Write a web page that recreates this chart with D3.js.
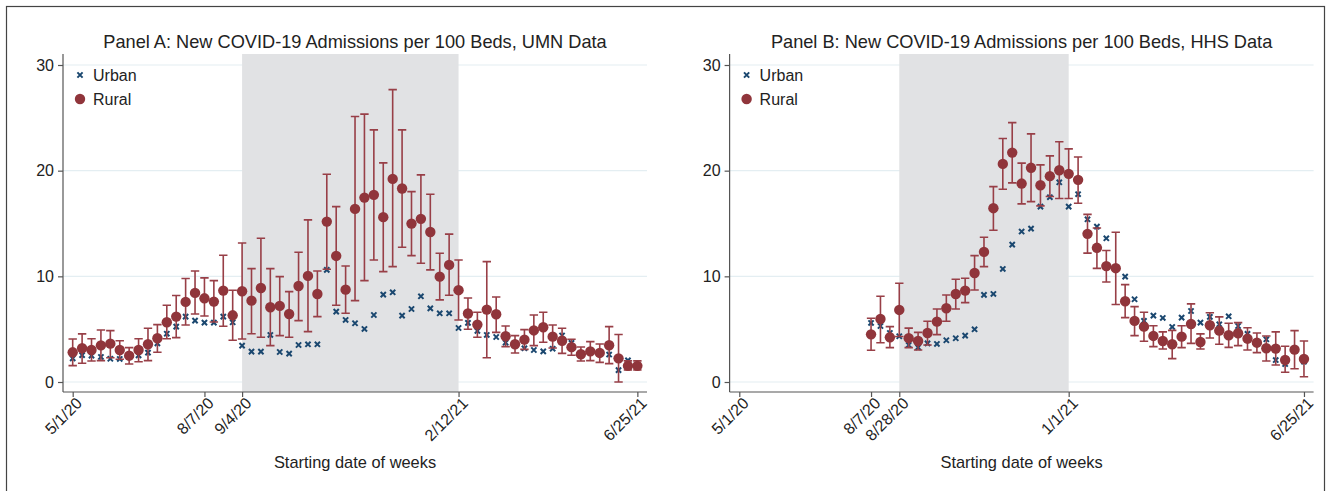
<!DOCTYPE html>
<html>
<head>
<meta charset="utf-8">
<script src="https://cdn.jsdelivr.net/npm/d3@7"></script>
<style>
  html, body { margin: 0; padding: 0; background: #fff; }
  svg { display: block; font-family: "Liberation Sans", Arial, sans-serif; }
</style>
</head>
<body>
<svg id="chart" width="1330" height="491"></svg>
<script>
// ---------------- DATA ----------------
const titleA = "Panel A: New COVID-19 Admissions per 100 Beds, UMN Data";
const titleB = "Panel B: New COVID-19 Admissions per 100 Beds, HHS Data";
const xTitle = "Starting date of weeks";
const seriesNames = ["Urban", "Rural"];

const startA = "5/1/20";   // first week, Panel A (weekly)
const startB = "8/7/20";   // first week, Panel B (weekly)
const axisStart = "5/1/20", axisEnd = "6/25/21";

const tickLabelsA = ["5/1/20", "8/7/20", "9/4/20", "2/12/21", "6/25/21"];
const tickLabelsB = ["5/1/20", "8/7/20", "8/28/20", "1/1/21", "6/25/21"];
const shadeA = ["9/4/20", "2/12/21"];
const shadeB = ["8/28/20", "1/1/21"];
const yTicks = [0, 10, 20, 30];

// Panel A (UMN), weeks 5/1/20 .. 6/25/21
const urbanA = [2.24, 2.54, 2.5, 2.37, 2.2, 2.18, 2.45, 2.52, 2.78, 3.66,
  4.57, 5.24, 6.19, 5.81, 5.62, 5.62, 6.19, 5.65, 3.44, 2.87,
  2.87, 4.45, 2.84, 2.68, 3.5, 3.57, 3.57, 10.61, 6.66, 5.87,
  5.56, 5.02, 6.34, 8.27, 8.49, 6.28, 6.91, 8.11, 6.97, 6.5,
  6.5, 5.11, 5.6, 4.83, 4.45, 4.26, 3.73, 3.6, 3.19, 3.03,
  2.9, 3.15, 4.4, 3.7, 2.65, 2.9, 2.75, 2.6, 1.12, 2.05, 1.55];
const ruralA = [2.81, 3.19, 3.03, 3.47, 3.63, 3.03, 2.49, 3.03, 3.57, 4.14,
  5.65, 6.19, 7.58, 8.43, 7.92, 7.61, 8.65, 6.31, 8.59, 7.70,
  8.90, 7.07, 7.20, 6.44, 9.09, 10.04, 8.33, 15.18, 11.93, 8.74,
  16.38, 17.45, 17.71, 15.6, 19.22, 18.31, 14.99, 15.44, 14.2, 9.97,
  11.08, 8.69, 6.48, 5.43, 6.85, 6.41, 4.33, 3.57, 4.01, 4.88,
  5.18, 4.29, 3.9, 3.3, 2.63, 2.9, 2.75, 3.48, 2.24, 1.53, 1.53];
const ruralLoA = [1.55, 1.77, 1.99, 2.02, 2.30, 2.15, 1.70, 1.92, 2.02, 2.81,
  4.10, 4.20, 5.40, 6.44, 6.25, 5.68, 5.27, 3.95, 4.07, 4.57,
  4.23, 3.44, 4.39, 4.23, 5.81, 4.77, 6.19, 10.67, 7.26, 6.50,
  7.70, 9.59, 11.55, 10.45, 10.92, 12.75, 11.96, 11.24, 10.61, 7.77,
  8.21, 5.87, 4.99, 4.23, 2.30, 4.70, 3.35, 2.75, 3.09, 3.44,
  3.76, 3.22, 2.71, 2.53, 1.99, 2.02, 1.86, 1.74, 0.0, 1.14, 1.14];
const ruralHiA = [4.07, 4.55, 4.10, 4.92, 4.86, 3.91, 3.25, 4.10, 5.09, 5.43,
  7.26, 8.18, 9.79, 10.51, 9.85, 9.59, 12.0, 8.68, 13.16, 10.73,
  13.6, 10.73, 9.97, 8.55, 12.28, 15.34, 10.51, 19.66, 16.6, 10.98,
  25.12, 25.35, 23.86, 20.74, 27.67, 23.86, 18.02, 19.6, 17.77, 12.19,
  13.99, 11.55, 7.95, 6.60, 11.39, 8.05, 5.30, 4.39, 4.96, 6.34,
  6.60, 5.40, 5.08, 4.04, 3.31, 3.82, 3.60, 5.24, 4.5, 2.0, 2.0];

// Panel B (HHS), weeks 8/7/20 .. 6/25/21
const urbanB = [5.59, 5.30, 4.64, 4.33, 3.5, 3.28, 3.66, 3.60, 3.95, 4.14,
  4.39, 4.99, 8.24, 8.33, 10.7, 13.0, 14.24, 14.52, 16.6, 17.49,
  18.9, 16.6, 17.77, 15.4, 14.7, 13.6, 10.8, 9.97, 7.83, 5.78,
  6.28, 6.06, 5.21, 6.09, 6.72, 5.62, 6.16, 5.46, 6.22, 5.3,
  4.55, 3.75, 4.04, 2.08, 1.70, 3.05, 1.92];
const ruralB = [4.51, 5.96, 4.23, 6.82, 4.15, 3.88, 4.64, 5.71, 6.98, 8.33,
  8.65, 10.32, 12.31, 16.45, 20.64, 21.71, 18.78, 20.27, 18.62, 19.48,
  20.04, 19.7, 19.13, 14.02, 12.7, 10.97, 10.77, 7.64, 5.78, 5.24,
  4.36, 3.88, 3.57, 4.29, 5.49, 3.79, 5.37, 4.86, 4.42, 4.61,
  4.10, 3.72, 3.19, 3.16, 2.08, 3.06, 2.18];
const ruralLoB = [3.0, 3.72, 3.25, 4.3, 3.25, 3.03, 3.50, 4.48, 5.75, 6.91,
  7.51, 8.71, 10.92, 14.36, 18.24, 18.84, 16.86, 17.07, 16.67, 17.55,
  17.36, 17.36, 16.92, 12.2, 10.75, 9.47, 7.33, 6.09, 4.39, 3.85,
  3.35, 3.12, 2.21, 3.25, 3.66, 3.12, 4.17, 3.57, 3.28, 3.44,
  3.03, 2.78, 1.99, 1.61, 0.92, 1.26, 0.5];
const ruralHiB = [6.03, 8.12, 5.24, 9.34, 5.1, 4.70, 5.75, 6.91, 8.24, 9.72,
  9.82, 11.96, 13.7, 18.49, 23.04, 24.55, 20.71, 23.48, 20.55, 21.4,
  22.73, 22.06, 21.3, 15.86, 14.58, 12.44, 14.17, 9.22, 7.13, 6.6,
  5.33, 4.74, 4.89, 5.33, 7.39, 4.55, 6.56, 6.16, 5.56, 5.62,
  5.14, 4.64, 4.36, 4.74, 3.38, 4.86, 3.88];

// ---------------- STYLE ----------------
const colUrban = "#1a476f";
const colRural = "#90353b";
const colCI = "#983f47";
const colShade = "#e1e2e4";
const colGrid = "#e4eef2";
const colAxis = "#555";

const p = d3.timeParse("%m/%d/%y");
const fmt = d3.timeFormat("%-m/%-d/%y");

const svg = d3.select("#chart");

// outer frame
svg.append("rect").attr("x", 6.5).attr("y", 6.5).attr("width", 1318).attr("height", 520)
  .attr("fill", "none").attr("stroke", "#444").attr("stroke-width", 1.2);

function panel(opts) {
  const { left, right, top, bottom, title, start, urban, rural, lo, hi, ticks, shade } = opts;
  const dates = urban.map((_, i) => d3.timeDay.offset(p(start), 7 * i));
  const pad = 7.2; // days of padding either side
  const x = d3.scaleTime()
    .domain([d3.timeHour.offset(p(axisStart), -pad * 24), d3.timeHour.offset(p(axisEnd), pad * 24)])
    .range([left, right]);
  const y = d3.scaleLinear().domain([0, 30]).range([382, 65]);

  const g = svg.append("g");

  // gridlines
  g.selectAll(".grid").data(yTicks).join("line")
    .attr("x1", left).attr("x2", right)
    .attr("y1", d => y(d)).attr("y2", d => y(d))
    .attr("stroke", colGrid).attr("stroke-width", 1.2);

  // shading
  g.append("rect")
    .attr("x", x(p(shade[0]))).attr("y", top)
    .attr("width", x(p(shade[1])) - x(p(shade[0])))
    .attr("height", bottom - top)
    .attr("fill", colShade);

  // axes
  const yAxis = d3.axisLeft(y).tickValues(yTicks).tickSize(5).tickPadding(4).tickFormat(d3.format("d"));
  const ya = g.append("g").attr("transform", `translate(${left},0)`).call(yAxis);
  ya.select(".domain").attr("d", `M0,${top}V${bottom}`);
  const xAxis = d3.axisBottom(x).tickValues(ticks.map(p)).tickSize(5).tickPadding(3).tickFormat(fmt);
  const xa = g.append("g").attr("transform", `translate(0,${bottom})`).call(xAxis);
  xa.select(".domain").attr("d", `M${left},0H${right}`);
  [ya, xa].forEach(a => {
    a.selectAll(".domain").attr("stroke", colAxis).attr("stroke-width", 1.2);
    a.selectAll(".tick line").attr("stroke", colAxis).attr("stroke-width", 1.2);
    a.selectAll("text").attr("fill", "#222").style("font-size", "16px")
      .style("font-family", "'Liberation Sans', Arial, sans-serif");
  });
  xa.selectAll("text")
    .attr("text-anchor", "end")
    .attr("dy", "0.6em").attr("dx", "-0.1em")
    .attr("transform", "rotate(-45)")
    .attr("y", 6).attr("x", 0);

  // urban (drawn first)
  const cs = 2.6;
  g.append("g").selectAll("path").data(urban.map((v, i) => [dates[i], v])).join("path")
    .attr("d", d => {
      const cx = x(d[0]), cy = y(d[1]);
      return `M${cx - cs},${cy - cs}L${cx + cs},${cy + cs}M${cx - cs},${cy + cs}L${cx + cs},${cy - cs}`;
    })
    .attr("stroke", colUrban).attr("stroke-width", 2).attr("fill", "none");

  // CI caps
  const cw = 4.2;
  const ci = g.append("g").attr("stroke", colCI).attr("stroke-width", 1.6).attr("fill", "none");
  ci.selectAll("path").data(rural.map((v, i) => [dates[i], lo[i], hi[i]])).join("path")
    .attr("d", d => {
      const cx = x(d[0]), y1 = y(d[1]), y2 = y(d[2]);
      return `M${cx},${y1}V${y2}M${cx - cw},${y1}H${cx + cw}M${cx - cw},${y2}H${cx + cw}`;
    });

  // rural dots
  g.append("g").selectAll("circle").data(rural.map((v, i) => [dates[i], v])).join("circle")
    .attr("cx", d => x(d[0])).attr("cy", d => y(d[1])).attr("r", 5.2)
    .attr("fill", colRural);

  // title
  svg.append("text").attr("x", (left + right) / 2).attr("y", 48)
    .attr("text-anchor", "middle").style("font-size", "18.2px").attr("fill", "#222").text(title);
  // x title
  svg.append("text").attr("x", (left + right) / 2).attr("y", 468)
    .attr("text-anchor", "middle").style("font-size", "16.4px").attr("fill", "#222").text(xTitle);

  // legend
  const lx = left + 17;
  const ly1 = 75, ly2 = 99;
  svg.append("path")
    .attr("d", `M${lx - cs},${ly1 - cs}L${lx + cs},${ly1 + cs}M${lx - cs},${ly1 + cs}L${lx + cs},${ly1 - cs}`)
    .attr("stroke", colUrban).attr("stroke-width", 2);
  svg.append("circle").attr("cx", lx).attr("cy", ly2).attr("r", 5.2).attr("fill", colRural);
  svg.append("text").attr("x", lx + 13).attr("y", ly1 + 6).style("font-size", "16px").attr("fill", "#222").text(seriesNames[0]);
  svg.append("text").attr("x", lx + 13).attr("y", ly2 + 6).style("font-size", "16px").attr("fill", "#222").text(seriesNames[1]);
}

panel({ left: 63, right: 647, top: 54, bottom: 392, title: titleA, start: startA,
  urban: urbanA, rural: ruralA, lo: ruralLoA, hi: ruralHiA, ticks: tickLabelsA, shade: shadeA });
panel({ left: 729.6, right: 1313.6, top: 54, bottom: 392, title: titleB, start: startB,
  urban: urbanB, rural: ruralB, lo: ruralLoB, hi: ruralHiB, ticks: tickLabelsB, shade: shadeB });
</script>
</body>
</html>
